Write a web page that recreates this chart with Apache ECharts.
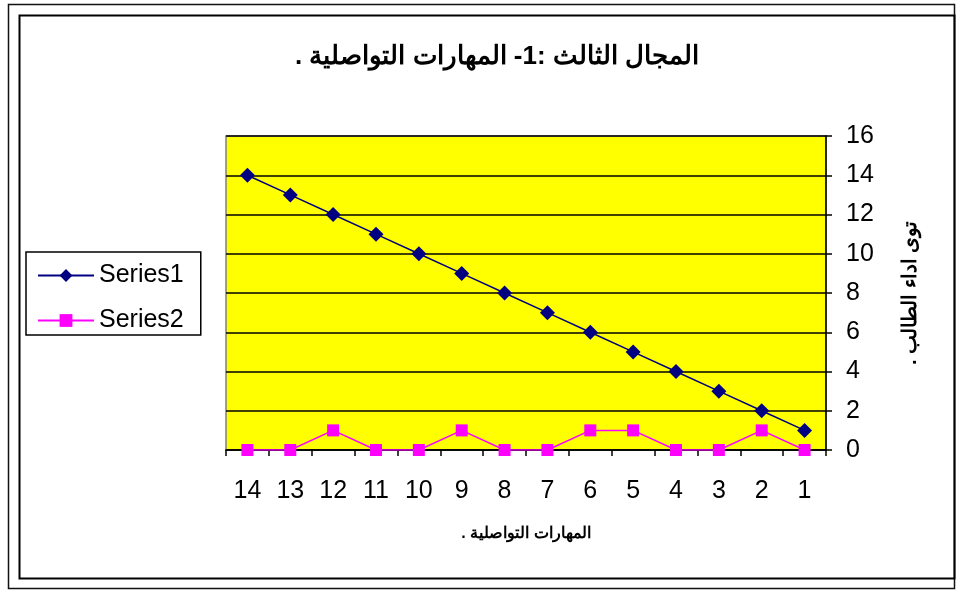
<!DOCTYPE html>
<html>
<head>
<meta charset="utf-8">
<script src="https://cdn.jsdelivr.net/npm/echarts@6/dist/echarts.min.js"></script>
<style>
html,body{margin:0;padding:0;background:#fff;}
#c{width:958px;height:590px;}
</style>
</head>
<body>
<div id="c"></div>
<script>
const categories = ['1','2','3','4','5','6','7','8','9','10','11','12','13','14'];
const series1 = [1,2,3,4,5,6,7,8,9,10,11,12,13,14];
const series2 = [0,1,0,0,1,1,0,0,1,0,0,1,0,0];
const yTicks = {min:0, max:16, interval:2};
const titleText = 'المجال الثالث :1- المهارات التواصلية .';
const xName = 'المهارات التواصلية .';
const yName = 'توى اداء الطالب .';

const rtl = s => '\u202B' + s + '\u202C';
const chart = echarts.init(document.getElementById('c'), null, {renderer:'canvas'});
const font = 'Liberation Sans, Arial, sans-serif';
chart.setOption({
  animation:false,
  textStyle:{fontFamily:font},
  graphic:[
    {type:'rect', shape:{x:8.5,y:4.5,width:946,height:584}, style:{fill:'none', stroke:'#111', lineWidth:1.5}, silent:true},
    {type:'rect', shape:{x:19.5,y:15.5,width:935,height:563}, style:{fill:'none', stroke:'#000', lineWidth:2}, silent:true},
    {type:'text', x:497, y:57, silent:true,
     style:{text:rtl(titleText), fontSize:26, fontWeight:'bold', fill:'#000', fontFamily:font, align:'center', verticalAlign:'middle'}}
  ],
  legend:{
    orient:'vertical', left:26, top:252,
    padding:[11,17,2,11],
    itemGap:20, itemWidth:56, itemHeight:16,
    borderColor:'#000', borderWidth:1.5, backgroundColor:'#fff',
    textStyle:{fontSize:25, lineHeight:25, color:'#000', fontFamily:font},
    data:['Series1','Series2']
  },
  grid:{left:226, right:132, top:136, bottom:140, show:true, backgroundColor:'#ffff00', borderColor:'#808080', borderWidth:1.5},
  xAxis:{
    type:'category', data:categories, inverse:true, boundaryGap:true,
    name:rtl(xName), nameLocation:'middle', nameGap:76,
    nameTextStyle:{fontSize:16, fontWeight:'bold', color:'#000', fontFamily:font},
    axisLine:{show:true, lineStyle:{color:'#000', width:1.5}},
    axisTick:{show:true, alignWithLabel:false, length:6, lineStyle:{color:'#000', width:1.5}},
    axisLabel:{fontSize:25, color:'#000', margin:29},
    splitLine:{show:false}
  },
  yAxis:{
    type:'value', position:'right', min:yTicks.min, max:yTicks.max, interval:yTicks.interval,
    name:rtl(yName), nameLocation:'middle', nameGap:74, nameRotate:90,
    nameTextStyle:{fontSize:20, fontWeight:'bold', color:'#000', fontFamily:font},
    axisLine:{show:true, lineStyle:{color:'#000', width:1.5}},
    axisTick:{show:true, inside:false, length:6, lineStyle:{color:'#000', width:1.5}},
    axisLabel:{fontSize:25, color:'#000', margin:20},
    splitLine:{show:true, lineStyle:{color:'#000', width:1.5}}
  },
  series:[
    {name:'Series1', type:'line', data:series1, symbol:'diamond', symbolSize:15,
     itemStyle:{color:'#000080'}, lineStyle:{color:'#000080', width:1.5}},
    {name:'Series2', type:'line', data:series2, symbol:'rect', symbolSize:12,
     itemStyle:{color:'#ff00ff'}, lineStyle:{color:'#ff00ff', width:1.5}}
  ]
});
</script>
</body>
</html>
